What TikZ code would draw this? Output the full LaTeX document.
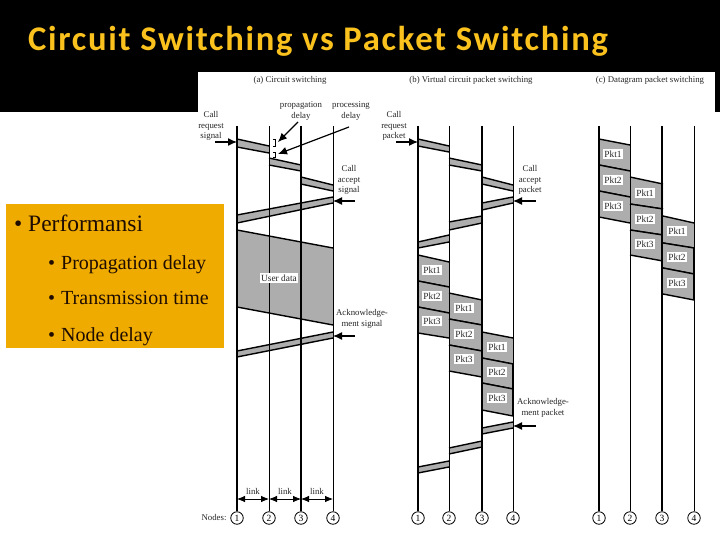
\documentclass[tikz,border=0pt]{standalone}
\usepackage{fontspec}
\setmainfont{Liberation Serif}
\newfontfamily\titlefont[LetterSpace=5]{Carlito}
\usetikzlibrary{arrows.meta}
\definecolor{panelor}{HTML}{F0AB00}
\definecolor{titlegold}{HTML}{FBC21E}
\definecolor{bandgray}{HTML}{ADADAD}
\definecolor{panelink}{HTML}{1E0C00}
\tikzset{
  x=1pt,y=-1pt,
  thickline/.style={line width=2pt,black},
  thinline/.style={line width=0.9pt,black},
  edgeline/.style={line width=1.4pt,black},
  ptr/.style={line width=1.2pt,-{Latex[length=9pt,width=8pt]}},
  linkarr/.style={line width=0.8pt,{Latex[length=8pt,width=6.5pt]}-{Latex[length=8pt,width=6.5pt]}},
  small/.style={font=\fontsize{8.8}{10.4}\selectfont,align=center,inner sep=0pt,text=black!85},
  pkt/.style={font=\fontsize{9.4}{10}\selectfont,fill=white,inner xsep=1pt,inner ysep=1.5pt,text=black!85},
  circ/.style={circle,draw,line width=0.8pt,minimum size=12.5pt,inner sep=0pt,font=\fontsize{9.5}{10}\selectfont,fill=white},
  mainitem/.style={anchor=base west,inner sep=0pt,text=panelink,font=\fontsize{23.5}{26}\selectfont},
  subitem/.style={anchor=base west,inner sep=0pt,text=panelink,font=\fontsize{20}{24}\selectfont},
  subbullet/.style={anchor=base west,inner sep=0pt,text=panelink,font=\fontsize{20}{24}\selectfont},
}
\newcommand{\band}[6]{%
  \fill[bandgray] (#1,#3) -- (#2,#4) -- (#2,#6) -- (#1,#5) -- cycle;
  \draw[edgeline] (#1,#3) -- (#2,#4);
  \draw[edgeline] (#1,#5) -- (#2,#6);
}
\newcommand{\nodeline}[5]{%
  \node[circ] (#1) at (#2,#3) {#4};
  \coordinate (#1top) at (#2,126);
  \draw[#5] (#1top) -- (#1);
}
\begin{document}
\begin{tikzpicture}
\useasboundingbox (0,0) rectangle (720,540);
\fill[white] (0,0) rectangle (720,540);
\fill[black] (0,0) rectangle (720,112);
\fill[white] (198,72) rectangle (715,112);
\node[anchor=base west,inner sep=0pt,text=titlegold,font=\titlefont\bfseries\fontsize{34.6}{36}\selectfont] (title) at (28,51) {Circuit Switching vs Packet Switching};

% left panel
\fill[panelor] (6,204) rectangle (224,348);
\node[mainitem] (p0b) at (14,231) {•};
\node[mainitem] (p0) at (28,231) {Performansi};
\node[subbullet] (p1b) at (48,269) {•};
\node[subitem] (p1) at (61,269) {Propagation delay};
\node[subbullet] (p2b) at (48,304) {•};
\node[subitem] (p2) at (61,304) {Transmission time};
\node[subbullet] (p3b) at (48,341) {•};
\node[subitem] (p3) at (61,341) {Node delay};

% titles
\node[small] (ta) at (290,80) {(a) Circuit switching};
\node[small] (tb) at (471,80) {(b) Virtual circuit packet switching};
\node[small] (tc) at (650,80) {(c) Datagram packet switching};

% bands (a)
\band{237}{269}{139}{146}{147}{153}
\band{269}{301}{158}{165}{165}{171}
\band{301}{333}{177}{185}{184}{191}
\band{237}{333}{215}{197}{223}{203}
\band{237}{333}{230}{248}{307}{325}
\band{237}{333}{351}{332}{357}{338}
% bands (b)
\band{418}{449}{139}{146}{146}{152}
\band{449}{482}{158}{165}{165}{171}
\band{482}{513}{177}{185}{184}{191}
\band{482}{513}{203}{197}{210}{203}
\band{449}{482}{222}{216}{230}{223}
\band{418}{449}{242}{235}{248}{242}
\band{418}{449}{255}{262}{281}{287}
\band{418}{449}{281}{287}{307}{313}
\band{418}{449}{307}{313}{333}{338}
\band{449}{482}{293}{300}{319}{325}
\band{449}{482}{319}{325}{345}{351}
\band{449}{482}{345}{351}{371}{377}
\band{482}{513}{332}{338}{358}{364}
\band{482}{513}{358}{364}{383}{389}
\band{482}{513}{383}{389}{410}{416}
\band{482}{513}{428}{422}{434}{428}
\band{449}{482}{448}{441}{454}{447}
\band{418}{449}{467}{461}{473}{467}
% bands (c)
\band{599}{630}{139}{145}{165}{171}
\band{599}{630}{165}{171}{191}{197}
\band{599}{630}{191}{197}{217}{223}
\band{630}{663}{177}{184}{204}{209}
\band{630}{663}{204}{209}{230}{235}
\band{630}{663}{230}{235}{255}{261}
\band{663}{694}{216}{223}{243}{248}
\band{663}{694}{243}{248}{268}{274}
\band{663}{694}{268}{274}{294}{300}

% node lines
\nodeline{a1}{237}{518}{1}{thickline}
\nodeline{a2}{269}{518}{2}{thinline}
\nodeline{a3}{301}{518}{3}{thickline}
\nodeline{a4}{333}{518}{4}{thinline}
\nodeline{b1}{418}{518}{1}{thickline}
\nodeline{b2}{449}{518}{2}{thinline}
\nodeline{b3}{482}{518}{3}{thickline}
\nodeline{b4}{513}{518}{4}{thinline}
\nodeline{c1}{599}{518}{1}{thickline}
\nodeline{c2}{630}{518}{2}{thinline}
\nodeline{c3}{662}{518}{3}{thickline}
\nodeline{c4}{694}{518}{4}{thinline}
\draw[line width=1.4pt] (513,364) -- (513,416);
\draw[line width=1.4pt] (694,248) -- (694,300);
\node[small] (nodes) at (214,518) {Nodes:};

% packet labels
\node[pkt] (uda) at (279,278) {User data};
\node[pkt] (b11) at (432,270) {Pkt1};
\node[pkt] (b12) at (432,296) {Pkt2};
\node[pkt] (b13) at (432,321) {Pkt3};
\node[pkt] (b21) at (464,308) {Pkt1};
\node[pkt] (b22) at (464,334) {Pkt2};
\node[pkt] (b23) at (464,359) {Pkt3};
\node[pkt] (b31) at (497,347) {Pkt1};
\node[pkt] (b32) at (497,372) {Pkt2};
\node[pkt] (b33) at (497,398) {Pkt3};
\node[pkt] (c11) at (613,154) {Pkt1};
\node[pkt] (c12) at (613,180) {Pkt2};
\node[pkt] (c13) at (613,206) {Pkt3};
\node[pkt] (c21) at (645,193) {Pkt1};
\node[pkt] (c22) at (645,219) {Pkt2};
\node[pkt] (c23) at (645,244) {Pkt3};
\node[pkt] (c31) at (677,231) {Pkt1};
\node[pkt] (c32) at (677,257) {Pkt2};
\node[pkt] (c33) at (677,283) {Pkt3};

% labels
\node[small] (req) at (211,126) {Call\\request\\signal};
\node[small] (acc) at (349,180) {Call\\accept\\signal};
\node[small] (ack) at (362,319) {Acknowledge-\\ment signal};
\node[small] (prop) at (301,111) {propagation\\delay};
\node[small] (proc) at (351,111) {processing\\delay};
\node[small] (reqb) at (394,126) {Call\\request\\packet};
\node[small] (accb) at (530,180) {Call\\accept\\packet};
\node[small] (ackb) at (543,408) {Acknowledge-\\ment packet};

% delay marks
\draw[line width=0.7pt] (273,139) -- (275,139) -- (275,146) -- (273,146);
\draw[line width=0.7pt] (273,152) -- (275,152) -- (275,157) -- (273,157);

% pointer arrows
\coordinate (s1) at (215,142); \coordinate (e1) at (237,142);
\coordinate (s2) at (298,122); \coordinate (e2) at (278,142);
\coordinate (s3) at (349,127); \coordinate (e3) at (278,154);
\coordinate (s4) at (355,201); \coordinate (e4) at (333,201);
\coordinate (s5) at (355,336); \coordinate (e5) at (333,336);
\coordinate (s6) at (396,142); \coordinate (e6) at (418,142);
\coordinate (s7) at (536,201); \coordinate (e7) at (513,201);
\coordinate (s8) at (536,426); \coordinate (e8) at (513,426);
\foreach \k in {1,...,8} \draw[ptr] (s\k) -- (e\k);

% link arrows
\coordinate (l1) at (237,499); \coordinate (l2) at (269,499);
\coordinate (l3) at (301,499); \coordinate (l4) at (333,499);
\draw[linkarr] (l1) -- (l2);
\draw[linkarr] (l2) -- (l3);
\draw[linkarr] (l3) -- (l4);
\node[small] (k1) at (253,491) {link};
\node[small] (k2) at (285,491) {link};
\node[small] (k3) at (317,491) {link};
\end{tikzpicture}
\end{document}
